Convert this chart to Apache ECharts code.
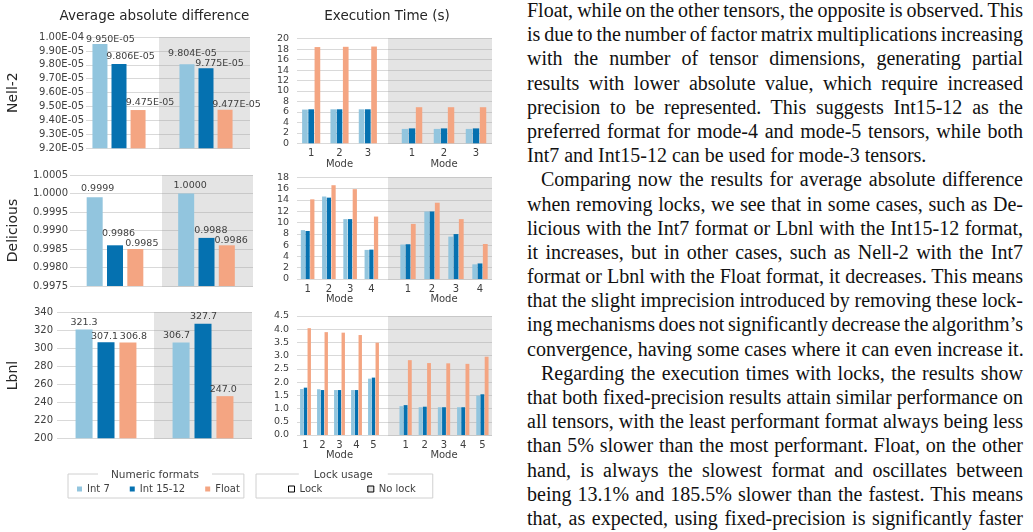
<!DOCTYPE html>
<html>
<head>
<meta charset="utf-8">
<script src="https://cdn.jsdelivr.net/npm/echarts@6/dist/echarts.min.js"></script>
<style>
html, body { margin: 0; padding: 0; background: #fff; }
#page { position: relative; width: 1033px; height: 532px; overflow: hidden; }
#chart { position: absolute; left: 0; top: 0; width: 525px; height: 532px; }
#text { position: absolute; left: 527px; top: -2px; width: 496px; font-family: 'Liberation Serif', 'Times New Roman', serif; font-size: 20px; color: #111; }
#text div { height: 24.2px; line-height: 24.2px; text-align: justify; text-align-last: justify; word-spacing: -2px; }
#text div.end { text-align-last: left; word-spacing: 0; white-space: nowrap; }
#text div.ind { text-indent: 14px; }
</style>
</head>
<body>
<div id="page">
<div id="chart"></div>
<div id="text">
<div>Float, while on the other tensors, the opposite is observed. This</div>
<div>is due to the number of factor matrix multiplications increasing</div>
<div>with the number of tensor dimensions, generating partial</div>
<div>results with lower absolute value, which require increased</div>
<div>precision to be represented. This suggests Int15-12 as the</div>
<div>preferred format for mode-4 and mode-5 tensors, while both</div>
<div class="end">Int7 and Int15-12 can be used for mode-3 tensors.</div>
<div class="ind">Comparing now the results for average absolute difference</div>
<div>when removing locks, we see that in some cases, such as De-</div>
<div>licious with the Int7 format or Lbnl with the Int15-12 format,</div>
<div>it increases, but in other cases, such as Nell-2 with the Int7</div>
<div>format or Lbnl with the Float format, it decreases. This means</div>
<div>that the slight imprecision introduced by removing these lock-</div>
<div>ing mechanisms does not significantly decrease the algorithm’s</div>
<div class="end">convergence, having some cases where it can even increase it.</div>
<div class="ind">Regarding the execution times with locks, the results show</div>
<div>that both fixed-precision results attain similar performance on</div>
<div>all tensors, with the least performant format always being less</div>
<div>than 5% slower than the most performant. Float, on the other</div>
<div>hand, is always the slowest format and oscillates between</div>
<div>being 13.1% and 185.5% slower than the fastest. This means</div>
<div>that, as expected, using fixed-precision is significantly faster</div>
</div>
</div>
<script>
var formats = ['Int 7', 'Int 15-12', 'Float'];
var formatColors = ['#92c5de', '#0571b0', '#f4a582'];

// Nell-2
var nellDiffLock = [9.950e-5, 9.806e-5, 9.475e-5];
var nellDiffNoLock = [9.804e-5, 9.775e-5, 9.477e-5];
var nellDiffTicks = [9.2e-5, 1.0e-4, 1e-6];
var nellModes = ['1', '2', '3'];
var nellTimeLock = [[6.45, 6.5, 6.5], [6.5, 6.5, 6.5], [18.4, 18.45, 18.5]];
var nellTimeNoLock = [[2.75, 2.75, 2.75], [2.85, 2.85, 2.85], [6.9, 6.9, 6.9]];
var nellTimeTicks = [0, 20, 2];

// Delicious
var delDiffLock = [0.9999, 0.9986, 0.9985];
var delDiffNoLock = [1.0000, 0.9988, 0.9986];
var delDiffTicks = [0.9975, 1.0005, 0.0005];
var delModes = ['1', '2', '3', '4'];
var delTimeLock = [[8.65, 14.6, 10.6, 5.15], [8.5, 14.4, 10.6, 5.2], [14.1, 16.6, 15.9, 11.05]];
var delTimeNoLock = [[6.1, 11.95, 7.5, 2.6], [6.15, 11.95, 7.95, 2.75], [9.75, 13.5, 10.6, 6.2]];
var delTimeTicks = [0, 18, 2];

// Lbnl
var lbnlDiffLock = [321.3, 307.1, 306.8];
var lbnlDiffNoLock = [306.7, 327.7, 247.0];
var lbnlDiffTicks = [200, 340, 20];
var lbnlModes = ['1', '2', '3', '4', '5'];
var lbnlTimeLock = [[1.74, 1.73, 1.70, 1.70, 2.13], [1.79, 1.70, 1.70, 1.70, 2.17], [4.04, 3.89, 3.87, 3.78, 3.49]];
var lbnlTimeNoLock = [[1.09, 1.05, 1.05, 1.05, 1.49], [1.13, 1.07, 1.05, 1.05, 1.54], [2.83, 2.72, 2.71, 2.69, 2.96]];
var lbnlTimeTicks = [0, 4.5, 0.5];

var font = 'DejaVu Sans';
var axisColor = '#404040';

// 9.950e-5 -> "9.950E-05"
function sci(v, d) {
    var s = v.toExponential(d).split('e');
    var e = parseInt(s[1], 10);
    return s[0] + 'E' + (e < 0 ? '-' : '+') + ('0' + Math.abs(e)).slice(-2);
}

var option = {
    animation: false,
    textStyle: { fontFamily: font },
    grid: [], xAxis: [], yAxis: [], series: [], graphic: []
};

function addGrid(left, top, width, height, bg, xAxis, yAxis) {
    var idx = option.grid.length;
    option.grid.push({
        left: left, top: top, width: width, height: height,
        show: !!bg, backgroundColor: bg || 'transparent', borderWidth: 0,
        containLabel: false, outerBoundsMode: 'none'
    });
    xAxis.gridIndex = idx;
    yAxis.gridIndex = idx;
    option.xAxis.push(xAxis);
    option.yAxis.push(yAxis);
    return idx;
}

function valueAxis(ticks) {
    return {
        type: 'value', min: ticks[0], max: ticks[1], interval: ticks[2],
        axisLine: { show: false }, axisTick: { show: false },
        axisLabel: { show: false }, splitLine: { show: false }
    };
}

// white part with the y labels + grey "No lock" part
function panelBackground(p) {
    var h = p.bottom - p.top;
    var y1 = valueAxis(p.ticks);
    y1.axisLabel = { show: true, margin: p.labelMargin, fontSize: p.labelSize, color: axisColor, formatter: p.fmt };
    y1.splitLine = { show: true, lineStyle: { color: '#d9d9d9' } };
    if (p.name) {
        y1.name = p.name;
        y1.nameLocation = 'middle';
        y1.nameGap = p.nameGap;
        y1.nameTextStyle = { fontSize: 14, color: '#262626' };
    }
    addGrid(p.white, p.top, p.gray - p.white, h, null, { type: 'category', data: [''], show: false }, y1);
    var y2 = valueAxis(p.ticks);
    y2.splitLine = { show: true, lineStyle: { color: '#c8c8c8' } };
    addGrid(p.gray, p.top, p.right - p.gray, h, '#e4e4e4', { type: 'category', data: [''], show: false }, y2);
}

// shift: per-format label offset (x from bar centre, y of label centre from bar top)
function diffHalf(p, center, values, shift) {
    var yAx = valueAxis(p.ticks);
    yAx.show = false;
    var gi = addGrid(center - 40, p.top, 80, p.bottom - p.top, null, { type: 'category', data: [''], show: false }, yAx);
    formats.forEach(function (f, k) {
        option.series.push({
            type: 'bar', name: f, xAxisIndex: gi, yAxisIndex: gi,
            data: [values[k]], barWidth: p.barWidth, barGap: p.barGap,
            itemStyle: { color: formatColors[k] },
            label: {
                show: true, position: 'top', distance: 0,
                offset: [shift[k][0], shift[k][1] + 6],
                fontSize: 9.5, color: axisColor,
                formatter: function (d) { return p.valFmt(d.value); }
            }
        });
    });
}

function timeHalf(p, left, width, modes, values) {
    var yAx = valueAxis(p.ticks);
    yAx.show = false;
    var gi = addGrid(left, p.top, width, p.bottom - p.top, null, {
        type: 'category', data: modes,
        axisLine: { show: false }, axisTick: { show: false },
        axisLabel: { margin: 5, fontSize: 10, color: axisColor },
        name: 'Mode', nameLocation: 'middle', nameGap: 14,
        nameTextStyle: { fontSize: 10, color: axisColor }
    }, yAx);
    formats.forEach(function (f, k) {
        option.series.push({
            type: 'bar', name: f, xAxisIndex: gi, yAxisIndex: gi,
            data: values[k], barGap: '10%', barCategoryGap: '36%',
            itemStyle: { color: formatColors[k] }
        });
    });
}

function intFmt(v) { return String(Math.round(v)); }

var pA = { top: 37, bottom: 148.3, white: 86, gray: 159, right: 250, ticks: nellDiffTicks,
    fmt: function (v) { return sci(v, 2); }, labelMargin: 2, labelSize: 10, name: 'Nell-2', nameGap: 66,
    barWidth: 15, barGap: '27%', valFmt: function (v) { return sci(v, 3); } };
var pB = { top: 38.7, bottom: 143.3, white: 297, gray: 388, right: 492, ticks: nellTimeTicks,
    fmt: intFmt, labelMargin: 8, labelSize: 9.5 };
var pC = { top: 175, bottom: 286, white: 70, gray: 162, right: 253, ticks: delDiffTicks,
    fmt: function (v) { return v.toFixed(4); }, labelMargin: 2, labelSize: 10, name: 'Delicious', nameGap: 50,
    barWidth: 16, barGap: '27%', valFmt: function (v) { return v.toFixed(4); } };
var pD = { top: 177.3, bottom: 279, white: 297, gray: 388, right: 492, ticks: delTimeTicks,
    fmt: intFmt, labelMargin: 8, labelSize: 9.5 };
var pE = { top: 312.7, bottom: 438.3, white: 57, gray: 154, right: 252, ticks: lbnlDiffTicks,
    fmt: intFmt, labelMargin: 4, labelSize: 10, name: 'Lbnl', nameGap: 37,
    barWidth: 17, barGap: '29%', valFmt: function (v) { return v.toFixed(1); } };
var pF = { top: 316, bottom: 435, white: 297, gray: 388, right: 492, ticks: lbnlTimeTicks,
    fmt: function (v) { return v.toFixed(1); }, labelMargin: 8, labelSize: 9.5 };

[pA, pB, pC, pD, pE, pF].forEach(panelBackground);

// lock usage legend entries (no data, grid 0 has no bars)
option.series.push({ type: 'bar', name: 'Lock', data: [], xAxisIndex: 0, yAxisIndex: 0,
    itemStyle: { color: '#ffffff', borderColor: '#000', borderWidth: 1 } });
option.series.push({ type: 'bar', name: 'No lock', data: [], xAxisIndex: 0, yAxisIndex: 0,
    itemStyle: { color: '#e4e4e4', borderColor: '#000', borderWidth: 1 } });

diffHalf(pA, 119, nellDiffLock, [[10.5, -5], [11.5, -8], [12, -8.3]]);
diffHalf(pA, 206, nellDiffNoLock, [[5.5, -12], [13.5, -6], [11.5, -6.7]]);
diffHalf(pC, 115, delDiffLock, [[3, -9.5], [3.5, -13], [6.5, -6]]);
diffHalf(pC, 206.5, delDiffNoLock, [[4, -8.5], [4.3, -8.5], [4.3, -5.5]]);
diffHalf(pE, 106, lbnlDiffLock, [[0, -7.6], [-1.5, -7], [5.5, -7]]);
diffHalf(pE, 203, lbnlDiffNoLock, [[-4.5, -8.3], [0.5, -8.5], [-1.7, -7.8]]);

timeHalf(pB, 297, 85, nellModes, nellTimeLock);
timeHalf(pB, 396, 96, nellModes, nellTimeNoLock);
timeHalf(pD, 297, 85, delModes, delTimeLock);
timeHalf(pD, 396, 96, delModes, delTimeNoLock);
timeHalf(pF, 297, 85, lbnlModes, lbnlTimeLock);
timeHalf(pF, 396, 96, lbnlModes, lbnlTimeNoLock);

option.legend = [{
    data: formats, left: 68, top: 474, padding: [10, 4, 4, 9], itemGap: 20,
    itemWidth: 5, itemHeight: 5, icon: 'rect', selectedMode: false,
    borderColor: '#d0d0d0', borderWidth: 1,
    textStyle: { fontSize: 10, color: axisColor }
}, {
    data: [
        { name: 'Lock', itemStyle: { color: '#ffffff', borderColor: '#000', borderWidth: 1 } },
        { name: 'No lock', itemStyle: { color: '#e4e4e4', borderColor: '#000', borderWidth: 1 } }
    ],
    left: 256, top: 474, padding: [10, 17, 4, 32], itemGap: 45,
    itemWidth: 6, itemHeight: 6, icon: 'rect', selectedMode: false,
    borderColor: '#d0d0d0', borderWidth: 1,
    textStyle: { fontSize: 10, color: axisColor }
}];

function label(text, x, y, size, extra) {
    var style = { text: text, x: 0, y: 0, align: 'center', verticalAlign: 'middle',
        fontSize: size, fontFamily: font, fill: '#262626' };
    for (var k in extra) style[k] = extra[k];
    return { type: 'text', x: x, y: y, z: 100, silent: true, style: style };
}

option.graphic = [
    label('Average absolute difference', 154.5, 16, 13.5),
    label('Execution Time (s)', 387, 16.5, 13.5),
    label('Numeric formats', 155, 475, 10.5, { fill: axisColor, backgroundColor: '#fff', padding: [1, 13] }),
    label('Lock usage', 343.3, 475, 10.5, { fill: axisColor, backgroundColor: '#fff', padding: [1, 15] })
];

var chart = echarts.init(document.getElementById('chart'));
chart.setOption(option);
</script>
</body>
</html>
